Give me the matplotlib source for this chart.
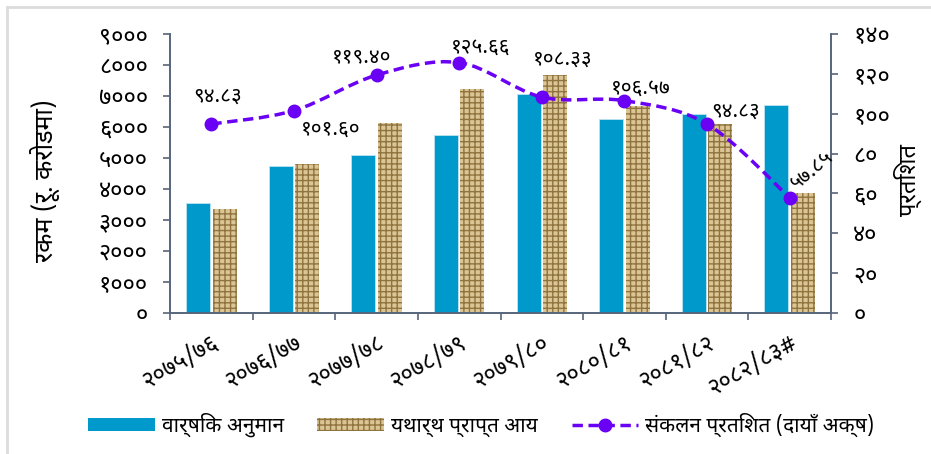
import numpy as np
import matplotlib
matplotlib.use("Agg")
import matplotlib.pyplot as plt
import matplotlib.transforms as mtransforms
from matplotlib import font_manager
from matplotlib.path import Path
from matplotlib.patches import PathPatch, Patch
from matplotlib.lines import Line2D

# pick a font that has Devanagari if there is one
installed = {f.name for f in font_manager.fontManager.ttflist}
wanted = ['Noto Sans Devanagari', 'Lohit Devanagari', 'FreeSans', 'Mangal',
          'Noto Sans', 'DejaVu Sans']
families = [f for f in wanted if f in installed] or ['DejaVu Sans']
plt.rcParams['font.family'] = families

years = ['२०७५/७६', '२०७६/७७', '२०७७/७८', '२०७८/७९',
         '२०७९/८०', '२०८०/८१', '२०८१/८२', '२०८२/८३#']
estimate = [3535, 4740, 5105, 5740, 7075, 6258, 6430, 6720]
actual = [3365, 4815, 6130, 7235, 7675, 6687, 6105, 3880]
percent = [94.83, 101.60, 119.40, 125.66, 108.33, 106.57, 94.83, 57.85]
pct_labels = ['९४.८३', '१०१.६०', '११९.४०', '१२५.६६',
              '१०८.३३', '१०६.५७', '९४.८३', '५७.८५']
left_ticks = ['०', '१०००', '२०००', '३०००', '४०००', '५०००',
              '६०००', '७०००', '८०००', '९०००']
right_ticks = ['०', '२०', '४०', '६०', '८०', '१००', '१२०', '१४०']

blue = '#0099CC'
tan = '#dcc594'
weave = '#8f7440'
purple = '#6a00f4'
axcol = '#56657a'

fig = plt.figure(figsize=(9.31, 4.54), dpi=100)
ax = fig.add_axes([0.1826, 0.3106, 0.71, 0.6144])
ax2 = ax.twinx()

x = np.arange(len(years))
w = 0.29
ax.bar(x - 0.16, estimate, w, color=blue, edgecolor='#bfe3f0', linewidth=0.6, zorder=2)
plt.rcParams['hatch.linewidth'] = 1.0
ax.bar(x + 0.16, actual, w, color=tan, edgecolor=weave, hatch='+++', linewidth=0, zorder=2)

ax.set_xlim(-0.5, len(years) - 0.5)
ax.set_ylim(0, 9000)
ax.set_yticks(np.arange(0, 9001, 1000))
ax.set_yticklabels(left_ticks, fontsize=17)
ax.set_xticks(np.arange(-0.5, len(years), 1))
ax.set_xticklabels([])
ax.set_xticks(x, minor=True)
ax.set_xticklabels(years, minor=True, rotation=30, ha='right',
                   rotation_mode='anchor', fontsize=17)
shift = mtransforms.ScaledTranslation(-0.08, 0, fig.dpi_scale_trans)
for lab in ax.get_xticklabels(minor=True):
    lab.set_transform(lab.get_transform() + shift)
ax.tick_params(axis='x', which='minor', length=0, pad=13)
ax.tick_params(axis='x', which='major', length=5, color=axcol, width=1.2)
ax.tick_params(axis='y', length=5, color=axcol, width=1.2, pad=11)
ax.set_ylabel('रकम (रू. करोडमा)', fontsize=18)
ax.yaxis.set_label_coords(-0.167, 0.475)

ax2.set_ylim(0, 140)
ax2.set_yticks(np.arange(0, 141, 20))
ax2.set_yticklabels(right_ticks, fontsize=17)
ax2.tick_params(axis='y', length=5, color=axcol, width=1.2, pad=11)
ax2.set_ylabel('प्रतिशत', fontsize=17)
ax2.yaxis.set_label_coords(1.094, 0.475)

for a in (ax, ax2):
    a.spines['top'].set_visible(False)
    for s in ('left', 'right', 'bottom'):
        a.spines[s].set_color(axcol)
        a.spines[s].set_linewidth(1.2)

# smoothed line through the points (Catmull-Rom as cubic Bezier)
pts = np.column_stack([x, percent])
verts = [pts[0]]
codes = [Path.MOVETO]
for i in range(len(pts) - 1):
    p0 = pts[max(i - 1, 0)]
    p1 = pts[i]
    p2 = pts[i + 1]
    p3 = pts[min(i + 2, len(pts) - 1)]
    verts += [p1 + (p2 - p0) / 6, p2 - (p3 - p1) / 6, p2]
    codes += [Path.CURVE4] * 3
curve = PathPatch(Path(verts, codes), fill=False, edgecolor=purple, lw=2.5,
                  linestyle=(0, (3, 1.6)), zorder=4)
ax2.add_patch(curve)
ax2.plot(x, percent, 'o', color=purple, markersize=9, zorder=5)

offsets = [(6, 28), (37, -19), (-15, 18), (21, 15), (21, 38), (16, 12), (29, 13), (22, 28)]
for i, lab in enumerate(pct_labels):
    rot = 40 if i == len(pct_labels) - 1 else 0
    ax2.annotate(lab, (x[i], percent[i]), xytext=offsets[i], textcoords='offset pixels',
                 ha='center', va='center', fontsize=15, rotation=rot, zorder=6)

handles = [Patch(facecolor=blue),
           Patch(facecolor=tan, edgecolor=weave, hatch='+++', linewidth=0),
           Line2D([0], [0], color=purple, lw=2.5, linestyle=(0, (3, 1.6)),
                  marker='o', markersize=9)]
fig.legend(handles, ['वार्षिक अनुमान', 'यथार्थ प्राप्त आय', 'संकलन प्रतिशत (दायाँ अक्ष)'],
           loc='center', bbox_to_anchor=(0.517, 0.064), ncol=3, frameon=False,
           fontsize=15, handlelength=3.2, handleheight=0.6, columnspacing=1.6,
           handletextpad=0.35)

# light grey frame at top and left
fig.add_artist(Line2D([0.0075, 1], [0.985, 0.985], color='#dcdcdc', lw=2))
fig.add_artist(Line2D([0.0075, 0.0075], [0, 0.985], color='#dcdcdc', lw=2))

fig.savefig('out.png', dpi=100)
